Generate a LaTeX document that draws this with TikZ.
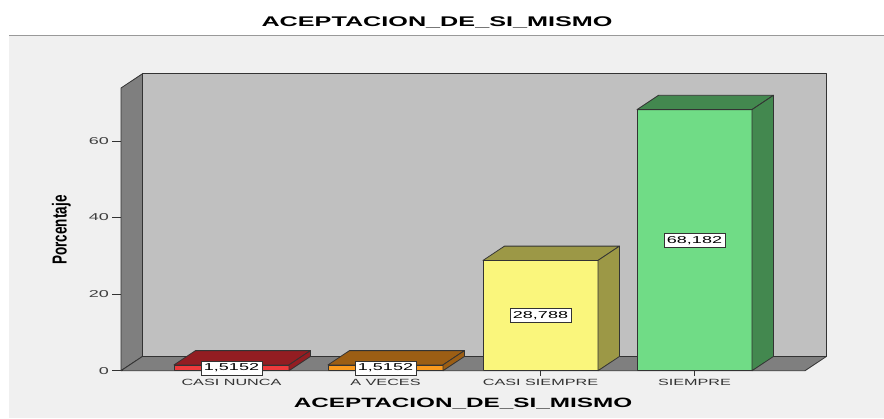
\documentclass[tikz,border=0pt]{standalone}
\usepackage{fontspec}
\setmainfont{Liberation Sans}
\usepackage{tikz}
\usetikzlibrary{positioning}
\definecolor{panelgray}{HTML}{F0F0F0}
\definecolor{wallgray}{HTML}{C0C0C0}
\definecolor{sidegray}{HTML}{7F7F7F}
\definecolor{redfront}{HTML}{EE3A3C}
\definecolor{reddark}{HTML}{931D22}
\definecolor{orangefront}{HTML}{FA9A1E}
\definecolor{orangedark}{HTML}{9C5E14}
\definecolor{yellowfront}{HTML}{FAF67C}
\definecolor{yellowdark}{HTML}{9C9846}
\definecolor{greenfront}{HTML}{70DC86}
\definecolor{greendark}{HTML}{43884F}
\newcommand{\wide}[1]{\scalebox{1.8}[1]{#1}}
\tikzstyle{wall} = [draw=black!80, line width=0.8pt, line join=round]
\tikzstyle{tick} = [draw=black!80, line width=0.8pt]
\tikzstyle{valuebox} = [rectangle, draw=black!80, fill=white, line width=0.6pt, inner xsep=3pt, inner ysep=2pt, minimum height=14pt, font=\fontsize{10}{12}\selectfont]
\tikzstyle{catlabel} = [inner sep=0pt, text=black!80, font=\fontsize{9}{10}\selectfont]
\tikzstyle{ticklabel} = [anchor=east, inner sep=0pt, text=black!75, font=\fontsize{10}{11}\selectfont]
\tikzstyle{heading} = [inner sep=0pt, font=\fontsize{13.5}{15}\selectfont\bfseries]

\begin{document}
\begin{tikzpicture}[x=1pt, y=-1pt]
\useasboundingbox (0,0) rectangle (884,418);
\fill[white] (0,0) rectangle (884,418);
\fill[panelgray] (9,36) rectangle (884,418);
\draw[gray!80, line width=1.2pt] (9,35.5) -- (884,35.5);
\node (title)[heading, font=\fontsize{14}{16}\selectfont\bfseries] at (437,22) {\wide{ACEPTACION\_DE\_SI\_MISMO}};
% walls and floor
\filldraw[wall, fill=wallgray] (142.5,356.4) rectangle (826.5,73.7);
\filldraw[wall, fill=sidegray] (121,370.7) -- (121,88) -- (142.5,73.7) -- (142.5,356.4) -- cycle;
\filldraw[wall, fill=sidegray] (121,370.7) -- (805,370.7) -- (826.5,356.4) -- (142.5,356.4) -- cycle;
% y axis
\draw[tick] (121,370.7) -- (112,370.7);
\draw[tick] (121,294.1) -- (112,294.1);
\draw[tick] (121,217.5) -- (112,217.5);
\draw[tick] (121,140.9) -- (112,140.9);
\node (y0)[ticklabel] at (109,370.7) {\wide{0}};
\node (y20)[ticklabel] at (109,294.1) {\wide{20}};
\node (y40)[ticklabel] at (109,217.5) {\wide{40}};
\node (y60)[ticklabel] at (109,140.9) {\wide{60}};
\node (ytitle)[heading, rotate=90] at (61.5,230) {\scalebox{1}[1.5]{Porcentaje}};
% bars
\filldraw[wall, fill=redfront] (174,370.7) rectangle (289,364.9);
\filldraw[wall, fill=reddark] (174,364.9) -- (195.5,350.6) -- (310.5,350.6) -- (289,364.9) -- cycle;
\filldraw[wall, fill=reddark] (289,364.9) -- (310.5,350.6) -- (310.5,356.4) -- (289,370.7) -- cycle;
\filldraw[wall, fill=orangefront] (328,370.7) rectangle (443,364.9);
\filldraw[wall, fill=orangedark] (328,364.9) -- (349.5,350.6) -- (464.5,350.6) -- (443,364.9) -- cycle;
\filldraw[wall, fill=orangedark] (443,364.9) -- (464.5,350.6) -- (464.5,356.4) -- (443,370.7) -- cycle;
\filldraw[wall, fill=yellowfront] (483,370.7) rectangle (598,260.4);
\filldraw[wall, fill=yellowdark] (483,260.4) -- (504.5,246.1) -- (619.5,246.1) -- (598,260.4) -- cycle;
\filldraw[wall, fill=yellowdark] (598,260.4) -- (619.5,246.1) -- (619.5,356.4) -- (598,370.7) -- cycle;
\filldraw[wall, fill=greenfront] (637,370.7) rectangle (752,109.6);
\filldraw[wall, fill=greendark] (637,109.6) -- (658.5,95.3) -- (773.5,95.3) -- (752,109.6) -- cycle;
\filldraw[wall, fill=greendark] (752,109.6) -- (773.5,95.3) -- (773.5,356.4) -- (752,370.7) -- cycle;
% x axis
\draw[tick] (231.5,370.7) -- (231.5,375.5);
\draw[tick] (385.5,370.7) -- (385.5,375.5);
\draw[tick] (540.5,370.7) -- (540.5,375.5);
\draw[tick] (694.5,370.7) -- (694.5,375.5);
\node (casinunca)[catlabel] at (231.5,382.7) {\wide{CASI NUNCA}};
\node (aveces)[catlabel] at (385.5,382.7) {\wide{A VECES}};
\node (casisiempre)[catlabel] at (540.5,382.7) {\wide{CASI SIEMPRE}};
\node (siempre)[catlabel] at (694.5,382.7) {\wide{SIEMPRE}};
\node (xtitle)[heading] at (463,403.5) {\wide{ACEPTACION\_DE\_SI\_MISMO}};
% value labels
\node (vcasinunca)[valuebox] at (231.5,367.8) {\wide{1,5152}};
\node (vaveces)[valuebox] at (385.5,367.8) {\wide{1,5152}};
\node (vcasisiempre)[valuebox] at (540.5,315.5) {\wide{28,788}};
\node (vsiempre)[valuebox] at (694.5,240.2) {\wide{68,182}};
\end{tikzpicture}
\end{document}
